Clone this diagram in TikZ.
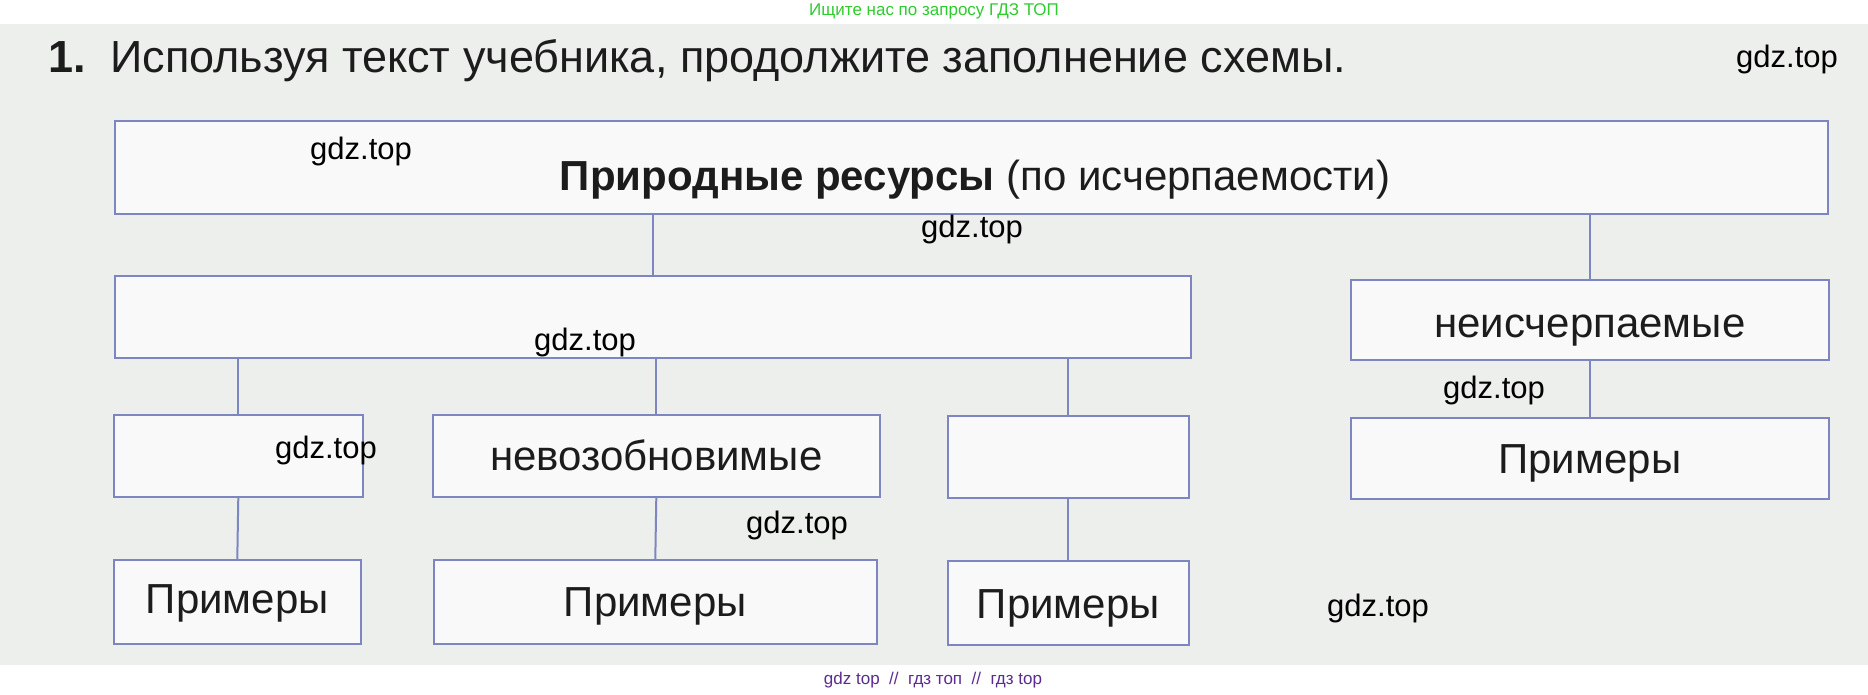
\documentclass[tikz,border=0pt]{standalone}
\usepackage{fontspec}
\setmainfont{Liberation Sans}
\definecolor{paper}{HTML}{ECEFEC}
\definecolor{boxfill}{HTML}{F8F9F8}
\definecolor{boxline}{HTML}{7E86C2}
\definecolor{ink}{HTML}{1C1C1C}
\definecolor{wmgreen}{HTML}{2ECC2E}
\definecolor{wmpurple}{HTML}{5B2C8F}
\begin{document}
\begin{tikzpicture}[x=1pt,y=-1pt,
  box/.style={draw=boxline, line width=1.6pt, fill=boxfill, anchor=north west, inner sep=0pt},
  conn/.style={draw=boxline, line width=2pt},
  lbl/.style={text=ink, font=\fontsize{42}{48}\selectfont, inner sep=0pt, anchor=base},
  ttl/.style={text=ink, font=\fontsize{45}{50}\selectfont, inner sep=0pt, anchor=base west},
  wm/.style={text=black, font=\fontsize{31}{36}\selectfont, inner sep=0pt},
  tag/.style={font=\fontsize{17}{20}\selectfont, inner sep=0pt}
]
\useasboundingbox (0,0) rectangle (1868,694);
\fill[white] (0,0) rectangle (1868,694);
\fill[paper] (0,24) rectangle (1868,665);

% header / footer tags
\node[tag, text=wmgreen] (hdr) at (934,11) {Ищите нас по запросу ГДЗ ТОП};
\node[tag, text=wmpurple] (ftr) at (933,680) {gdz top \ // \ гдз топ \ // \ гдз top};

% title
\node[ttl, font=\bfseries\fontsize{45}{50}\selectfont] (num) at (48,72) {1.};
\node[ttl] (title) at (110,72) {Используя текст учебника, продолжите заполнение схемы.};

% boxes
\node[box, minimum width=1713pt, minimum height=93pt] (top) at (114,120) {};
\node[box, minimum width=1076pt, minimum height=82pt] (wide) at (114,275) {};
\node[box, minimum width=478pt, minimum height=80pt] (neis) at (1350,279) {};
\node[box, minimum width=249pt, minimum height=82pt] (b1) at (113,414) {};
\node[box, minimum width=447pt, minimum height=82pt] (b2) at (432,414) {};
\node[box, minimum width=241pt, minimum height=82pt] (b3) at (947,415) {};
\node[box, minimum width=478pt, minimum height=81pt] (b4) at (1350,417) {};
\node[box, minimum width=247pt, minimum height=84pt] (c1) at (113,559) {};
\node[box, minimum width=443pt, minimum height=84pt] (c2) at (433,559) {};
\node[box, minimum width=241pt, minimum height=84pt] (c3) at (947,560) {};

% connectors
\draw[conn] (top.south -| wide.north) -- (wide.north);
\draw[conn] (top.south -| neis.north) -- (neis.north);
\draw[conn] (wide.south -| b1.north) -- (b1.north);
\draw[conn] (wide.south -| b2.north) -- (b2.north);
\draw[conn] (wide.south -| b3.north) -- (b3.north);
\draw[conn] (neis.south) -- (b4.north);
\draw[conn] (b1.south) -- (c1.north);
\draw[conn] (b2.south) -- (c2.north);
\draw[conn] (b3.south) -- (c3.north);

% labels
\node[lbl] (ltop) at (975,190) {\textbf{Природные ресурсы} (по исчерпаемости)};
\node[lbl] (lneis) at (neis.center |- 0,337) {неисчерпаемые};
\node[lbl] (lb2) at (b2.center |- 0,470) {невозобновимые};
\node[lbl] (lb4) at (b4.center |- 0,473) {Примеры};
\node[lbl] (lc1) at (c1.center |- 0,613) {Примеры};
\node[lbl] (lc2) at (c2.center |- 0,616) {Примеры};
\node[lbl] (lc3) at (c3.center |- 0,618) {Примеры};

% watermarks
\node[wm] (w1) at (1787,59) {gdz.top};
\node[wm] (w2) at (361,151) {gdz.top};
\node[wm] (w3) at (972,229) {gdz.top};
\node[wm] (w4) at (585,342) {gdz.top};
\node[wm] (w5) at (1494,390) {gdz.top};
\node[wm] (w6) at (326,450) {gdz.top};
\node[wm] (w7) at (797,525) {gdz.top};
\node[wm] (w8) at (1378,608) {gdz.top};
\end{tikzpicture}
\end{document}
